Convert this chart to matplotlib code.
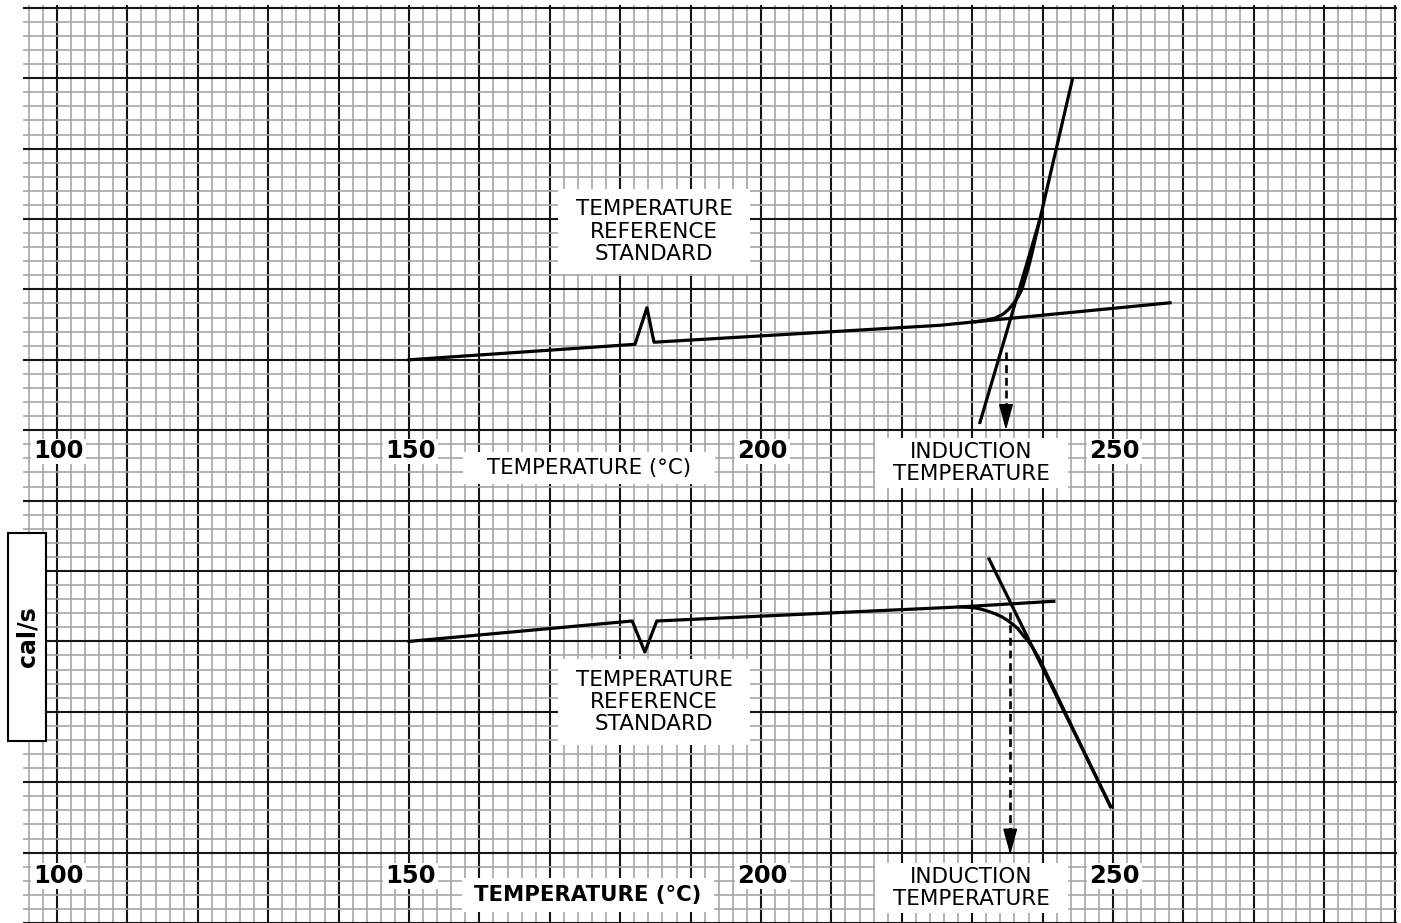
import matplotlib.pyplot as plt
from matplotlib.patches import Rectangle
from matplotlib.ticker import MultipleLocator

# Upper trace (exotherm), temperature in deg C vs signal in grid units
upper_temp = [150.0, 182.1, 183.8, 184.8, 225.4, 230.4, 231.8, 233.2, 234.4, 235.1,
              235.8, 236.5, 237.1, 237.6, 238.2, 238.9, 239.6, 241.9, 244.2]
upper_sig = [80.0, 82.2, 87.4, 82.5, 84.9, 85.4, 85.6, 85.9, 86.5, 87.1,
             87.9, 88.9, 90.1, 91.8, 93.9, 96.9, 99.9, 109.8, 119.7]
upper_base_ext = ([230.4, 258.1], [85.4, 88.1])
upper_tangent = ([231.1, 239.6], [71.1, 99.9])
upper_onset = (234.8, 81.1, 70.0)  # x, dashed line start, arrow tip

# Lower trace (endotherm)
lower_temp = [150.0, 181.7, 183.5, 185.2, 228.3, 230.1, 231.2, 232.2, 233.2, 234.2,
              235.0, 235.8, 236.5, 237.2, 237.8, 238.3, 238.9, 239.6, 249.6]
lower_sig = [40.0, 42.9, 38.5, 42.9, 44.9, 44.8, 44.6, 44.3, 43.95, 43.5,
             43.0, 42.4, 41.8, 40.9, 40.2, 39.6, 38.6, 37.4, 16.6]
lower_base_ext = ([228.3, 241.6], [44.9, 45.7])
lower_tangent = ([232.4, 249.7], [51.7, 16.5])
lower_onset = (235.4, 44.2, 9.7)

tick_temps = [100, 150, 200, 250]

fig = plt.figure(figsize=(14.01, 9.23), dpi=100)
ax = fig.add_axes([23 / 1401, 0, 1373.7 / 1401, 918 / 923])
ax.set_xlim(95.17, 290.3)
ax.set_ylim(0, 130.4)

# chart-paper grid
for axis in (ax.xaxis, ax.yaxis):
    axis.set_major_locator(MultipleLocator(10))
    axis.set_minor_locator(MultipleLocator(2))
ax.grid(which="minor", color="#a6a6a6", lw=1.2)
ax.grid(which="major", color="#151515", lw=1.5)
ax.tick_params(which="both", length=0, labelbottom=False, labelleft=False)
for sp in ax.spines.values():
    sp.set_visible(False)
ax.set_axisbelow(True)


def boxed(x, y, s, w, h, **kw):
    ax.add_patch(Rectangle((x - w / 2, y - h / 2), w, h, fc="white", ec="none", zorder=3))
    ax.text(x, y, s, ha="center", va="center", zorder=4, linespacing=1.15, **kw)


lw = 2.3
ax.plot(upper_temp, upper_sig, color="black", lw=lw, zorder=5, solid_joinstyle="round")
ax.plot(*upper_base_ext, color="black", lw=lw, zorder=5)
ax.plot(*upper_tangent, color="black", lw=lw, zorder=5)
ax.plot(lower_temp, lower_sig, color="black", lw=lw, zorder=5, solid_joinstyle="round")
ax.plot(*lower_base_ext, color="black", lw=lw, zorder=5)
ax.plot(*lower_tangent, color="black", lw=lw, zorder=5)

for x, y0, y1 in (upper_onset, lower_onset):
    ax.plot([x, x], [y0, y1 + 2], color="black", lw=1.9, dashes=(3, 1.8), zorder=5)
    ax.annotate("", xy=(x, y1), xytext=(x, y1 + 3.2),
                arrowprops=dict(arrowstyle="-|>,head_length=0.8,head_width=0.22",
                                color="black", lw=1.2, mutation_scale=20,
                                shrinkA=0, shrinkB=0), zorder=6)

# temperature scale labels
for yl in (67.0, 6.7):
    for t in tick_temps:
        boxed(t + 0.2, yl, str(t), 7.8, 3.6, fontsize=17.5, fontweight="bold")

boxed(175.6, 64.6, "TEMPERATURE (°C)", 35.8, 4.5, fontsize=15.3)
boxed(175.4, 4.0, "TEMPERATURE (°C)", 35.8, 4.8, fontsize=15.3, fontweight="bold")

boxed(184.8, 98.2, "TEMPERATURE\nREFERENCE\nSTANDARD", 27.3, 12.1, fontsize=15.5)
boxed(184.8, 31.4, "TEMPERATURE\nREFERENCE\nSTANDARD", 27.3, 12.1, fontsize=15.5)

boxed(229.9, 65.3, "INDUCTION\nTEMPERATURE", 27.4, 7.1, fontsize=15.5)
boxed(229.9, 5.0, "INDUCTION\nTEMPERATURE", 27.4, 7.1, fontsize=15.5)

# y-axis unit box at the left edge
fig.patches.append(Rectangle((8 / 1401, 1 - 741 / 923), 38 / 1401, 208 / 923,
                             transform=fig.transFigure, fc="white", ec="black", lw=1.5))
fig.text(27 / 1401, 1 - 637 / 923, "cal/s", rotation=90, ha="center", va="center",
         fontsize=17, fontweight="bold")

fig.savefig("out.png", dpi=100)
